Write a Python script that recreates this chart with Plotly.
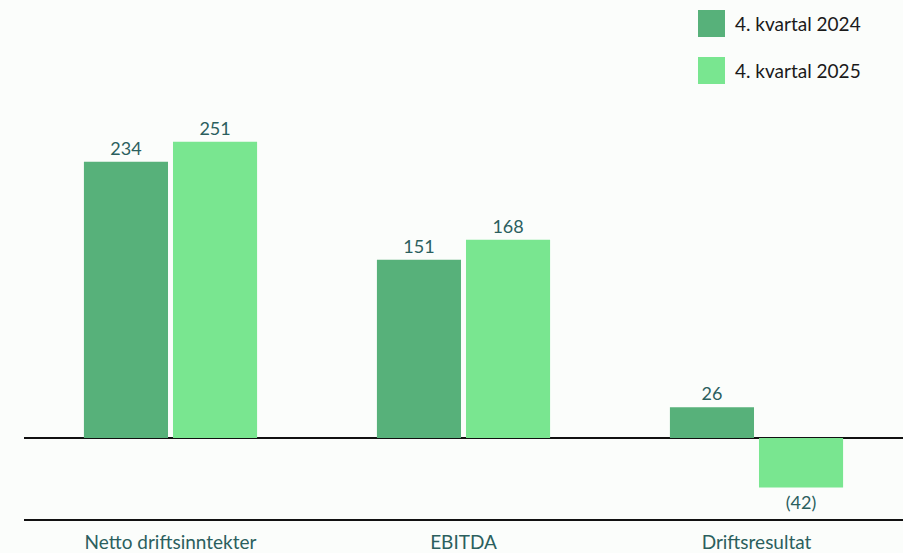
import plotly.graph_objects as go

categories = ["Netto driftsinntekter", "EBITDA", "Driftsresultat"]
series_names = ["4. kvartal 2024", "4. kvartal 2025"]
values_2024 = [234, 151, 26]
values_2025 = [251, 168, -42]

colors = ["#57B17A", "#79E690"]
label_color = "#2B5F5E"
font_family = "Lato, 'Open Sans', sans-serif"


def fmt(v):
    return f"({abs(v)})" if v < 0 else f"{v}"


fig = go.Figure()
for name, vals, col in zip(series_names, [values_2024, values_2025], colors):
    fig.add_trace(go.Bar(
        x=categories, y=vals, name=name,
        marker=dict(color=col, line=dict(width=0)),
        text=[fmt(v) for v in vals], textposition="outside",
        textfont=dict(color=label_color, size=18, family=font_family),
        cliponaxis=False, showlegend=False,
    ))

W, H = 903, 553
L, R, T, B = 24, 0, 0, 34
pw, ph = W - L - R, H - T - B


def px_x(x):
    return (x - L) / pw


def px_y(y):
    return (H - B - y) / ph


shapes = []
annotations = []
for i, (name, col) in enumerate(zip(series_names, colors)):
    y0 = 10 + i * 47
    shapes.append(dict(type="rect", xref="paper", yref="paper",
                       x0=px_x(698), x1=px_x(725), y0=px_y(y0 + 27), y1=px_y(y0),
                       fillcolor=col, line=dict(width=0)))
    annotations.append(dict(xref="paper", yref="paper", x=px_x(733), y=px_y(y0 + 13.5),
                            text=name, showarrow=False, xanchor="left", yanchor="middle",
                            font=dict(size=19, color="#1A1A1A", family=font_family)))

fig.update_layout(
    width=W, height=H,
    margin=dict(l=L, r=R, t=T, b=B),
    paper_bgcolor="#FBFDFB", plot_bgcolor="#FBFDFB",
    barmode="group", bargap=0.392, bargroupgap=0.056,
    font=dict(family=font_family),
    shapes=shapes, annotations=annotations,
    xaxis=dict(showline=True, linecolor="#111111", linewidth=1.5,
               showgrid=False, ticks="outside", ticklen=5, tickcolor="rgba(0,0,0,0)",
               tickfont=dict(size=19, color=label_color, family=font_family)),
    yaxis=dict(range=[-68.6, 371], showticklabels=False, showline=False, showgrid=False,
               zeroline=True, zerolinecolor="#111111", zerolinewidth=1.5,
               fixedrange=True),
)

fig.write_html("out.html", config={"displayModeBar": False},
               post_script="document.body.style.margin='0';")
